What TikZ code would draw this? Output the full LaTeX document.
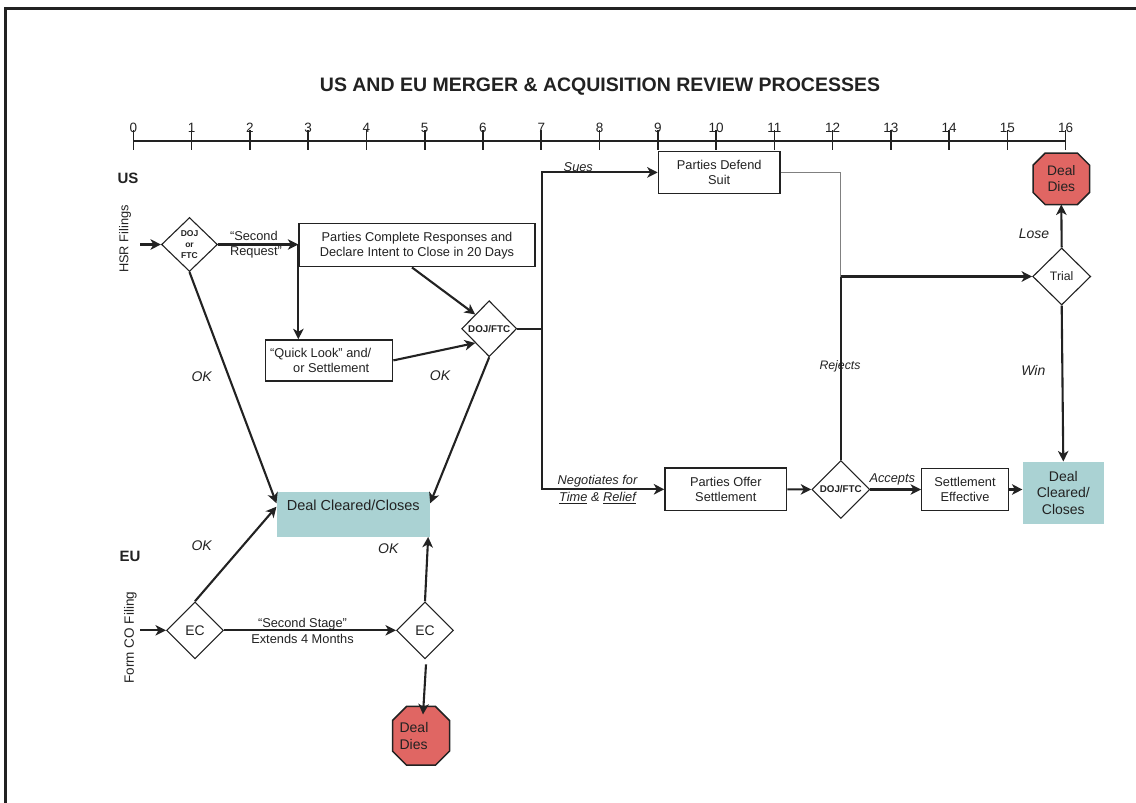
\documentclass[tikz,border=0pt]{standalone}
\usepackage{fontspec}
\setmainfont{Liberation Sans}
\usetikzlibrary{arrows.meta,shapes.geometric,calc,backgrounds}

\definecolor{ink}{HTML}{222222}
\definecolor{dies}{HTML}{E06663}
\definecolor{clear}{HTML}{AAD2D3}
\definecolor{thinline}{HTML}{808080}

\newcommand\fsz[2]{\fontsize{#1}{#2}\selectfont}
\newcommand\octoutline[2]{%
  \begin{scope}[on background layer]
    \draw[octline] ($(#1.north west)+(#2,0)$) -- ($(#1.north east)+(-#2,0)$)
      -- ($(#1.north east)+(0,#2)$) -- ($(#1.south east)+(0,-#2)$)
      -- ($(#1.south east)+(-#2,0)$) -- ($(#1.south west)+(#2,0)$)
      -- ($(#1.south west)+(0,-#2)$) -- ($(#1.north west)+(0,#2)$) -- cycle;
  \end{scope}}

\begin{document}
\begin{tikzpicture}[x=1pt,y=-1pt,
  every node/.style={text=ink, inner sep=0pt},
  base/.style={font=\fsz{12.8}{15}},
  box/.style={base, draw=ink, line width=1.3pt, fill=white, align=center},
  dia/.style={diamond, draw=ink, line width=1.1pt, fill=white, align=center, inner sep=0pt},
  oct/.style={rectangle, align=center, font=\fsz{14}{16.5}},
  conn/.style={draw=ink, line width=2.1pt, -{Stealth[length=10.5pt,width=10.5pt,inset=3pt]}},
  plain/.style={draw=ink, line width=2.1pt},
  grayline/.style={draw=thinline, line width=1.2pt},
  lab/.style={font=\itshape\fsz{14}{16}},
  slab/.style={font=\itshape\fsz{12.8}{15}},
  octline/.style={draw=ink, line width=1.5pt, fill=dies},
  clearbox/.style={fill=clear, inner sep=0pt, align=center},
]
\useasboundingbox (0,0) rectangle (1136,803);
% frame (top and left edges)
\draw[line width=3pt, ink] (5.5,803) -- (5.5,8.5) -- (1136,8.5);

% title
\node[font=\bfseries\fsz{19.5}{22}] (title) at (600,87) {US AND EU MERGER \& ACQUISITION REVIEW PROCESSES};

% time axis
\draw[line width=2.2pt, ink] (133.4,141) -- (1065.6,141);
\foreach \i in {0,...,16}{
  \pgfmathsetmacro\xx{133.4+58.265*\i}
  \draw[line width=1.6pt, ink] (\xx,130) -- (\xx,150);
  \node[font=\fsz{13.5}{15}] (n\i) at (\xx,127.5) {\i};
}

% side labels
\node[font=\bfseries\fsz{15}{18}] (us) at (128,178) {US};
\node[font=\bfseries\fsz{15}{18}] (eu) at (130,556.7) {EU};
\node[rotate=90, font=\fsz{12.8}{15}] (hsr) at (125,239) {HSR Filings};
\node[rotate=90, font=\fsz{13.5}{15}] (form) at (130.5,637.5) {Form CO Filing};
\coordinate (hsrA) at (140,244.5);
\coordinate (formA) at (140,630.3);

% US upper part
\node[dia, minimum width=56, minimum height=54, font=\bfseries\fsz{8.5}{10.7}] (dj1) at (189.5,244.5) {DOJ\\or\\FTC};
\node[box, minimum width=236, minimum height=43] (pc) at (417,245.3) {Parties Complete Responses and\\Declare Intent to Close in 20 Days};
\node[box, minimum width=127, minimum height=41] (ql) at (329.2,360.4) {``Quick Look'' and/\rule{17pt}{0pt}\\\rule{4pt}{0pt}or Settlement};
\node[dia, minimum width=55, minimum height=56, font=\bfseries\fsz{9.8}{11}] (dj2) at (489.2,328.7) {DOJ/FTC};

% Deal cleared (left)
\node[clearbox, minimum width=153.3, text height=19pt, text depth=26pt, font=\fsz{14.5}{16}] (dc1) at (353.3,514.2) {Deal Cleared/Closes};

% EU
\node[dia, minimum width=57, minimum height=57, font=\fsz{13.9}{15}] (ec1) at (195,630.3) {EC};
\node[dia, minimum width=57, minimum height=57, font=\fsz{13.9}{15}] (ec2) at (425,630.3) {EC};
\node[oct, minimum width=56.6, minimum height=58.3, align=left] (dd2) at (421,735.8) {Deal\rule{14pt}{0pt}\\Dies};
\octoutline{dd2}{14}

% right side
\node[box, minimum width=121.7, minimum height=41.8] (pds) at (719.2,172.4) {Parties Defend\\Suit};
\node[box, minimum width=121.7, minimum height=42.6] (pos) at (725.8,489.3) {Parties Offer\\Settlement};
\node[dia, minimum width=58, minimum height=58, font=\bfseries\fsz{9.8}{11}] (dj3) at (840.8,489.5) {DOJ/FTC};
\node[box, minimum width=86.6, minimum height=42.4] (se) at (965,489.5) {Settlement\\Effective};
\node[clearbox, minimum width=81.3, minimum height=62.3, font=\fsz{14}{16.7}] (dc2) at (1063.3,492.8) {Deal\\Cleared/\\Closes};
\node[dia, minimum width=58, minimum height=57, font=\fsz{12.3}{14}] (trial) at (1061.7,276.5) {Trial};
\node[oct, minimum width=56, minimum height=51, font=\fsz{13.8}{16}] (dd1) at (1061.3,178.8) {Deal\\Dies};
\octoutline{dd1}{12}

% connectors: US
\draw[conn] (hsrA) -- (dj1.west);
\coordinate (sr) at (dj1.east -| pc.west);
\draw[conn] (dj1.east) -- (sr);
\draw[conn] (sr) -- (sr |- ql.north);
\draw[conn] ($(pc.south)+(-5,0)$) -- (dj2.north west);
\draw[conn] (ql.east) -- (dj2.south west);
\draw[conn] (dj1.south) -- ($(dc1.west)+(0,-10.9)$);
\draw[conn] (dj2.south) -- ($(dc1.east)+(0,-10.9)$);

% connectors: EU
\draw[conn] (formA) -- (ec1.west);
\draw[conn] (ec1.north) -- ($(dc1.west)+(0,-7.5)$);
\draw[conn] (ec1.east) -- (ec2.west);
\draw[conn] (ec2.north) -- ($(dc1.south east)+(-2,0)$);
\draw[conn] ($(ec2.south)+(1,5)$) -- ($(dd2.north)+(2,8)$);

% connectors: right side
\path (dj2.east) ++(25,0) coordinate (j7);
\draw[plain] (dj2.east) -- (j7);
\draw[conn] (j7) |- (pds.west);
\draw[conn] (j7) |- (pos.west);
\path (pds.east -| dj3.north) coordinate (rt);
\path (trial.west -| dj3.north) coordinate (rj);
\draw[grayline] (pds.east) -- (rt) -- (rj);
\draw[plain] (dj3.north) -- (rj);
\draw[conn] (rj) -- (trial.west);
\draw[conn] (trial.north) -- (dd1.south);
\draw[conn] (trial.south) -- (dc2.north);
\draw[conn] (pos.east) -- (dj3.west);
\draw[conn] (dj3.east) -- (se.west);
\draw[conn] (se.east) -- (se.east -| dc2.west);

% labels
\node[base, align=left] (lsr) at (256,244.7) {``Second\\Request''};
\node[align=center, font=\fsz{12.8}{16.3}] (lss) at (302.5,631) {``Second Stage''\\Extends 4 Months};
\node[lab] (ok1) at (201.7,376.7) {OK};
\node[lab] (ok2) at (440,375.5) {OK};
\node[lab] (ok3) at (201.7,546) {OK};
\node[lab] (ok4) at (388.3,548.3) {OK};
\node[slab] (sues) at (578.3,166.7) {Sues};
\node[slab, align=center, font=\itshape\fsz{12.8}{17}] (neg) at (597.5,489.5) {Negotiates for\\\underline{Time} \& \underline{Relief}};
\node[font=\itshape\fsz{12.3}{14}] (rej) at (840,366.7) {Rejects};
\node[lab] (lose) at (1034,233.3) {Lose};
\node[lab] (win) at (1033.3,370) {Win};
\node[slab] (acc) at (892.3,479) {Accepts};
\end{tikzpicture}
\end{document}
